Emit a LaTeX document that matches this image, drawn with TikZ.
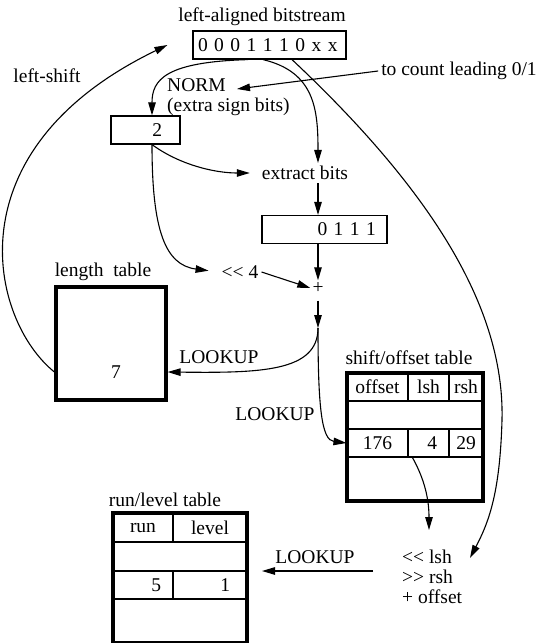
\documentclass[tikz,border=0pt]{standalone}
\usepackage{fontspec}
\setmainfont{Liberation Serif}
\usetikzlibrary{arrows.meta}
\tikzset{
  lbl/.style={inner sep=3pt},
  valbox/.style={draw,line width=1.2pt,minimum height=28pt,inner sep=0pt},
  cell/.style={draw,line width=1.1pt,minimum height=28pt,inner sep=0pt},
  tabframe/.style={draw,line width=3.2pt,inner sep=0pt},
  fl/.style={-{Triangle[length=13pt,width=7.5pt]},line width=1.1pt},
}

\begin{document}
\begin{tikzpicture}[x=1pt,y=-1pt,font=\fontsize{19.5}{20}\selectfont]
  \useasboundingbox (0,0) rectangle (545,643);
  % bitstream and normalisation
  \node[lbl] (bstitle) at (262,17) {left-aligned bitstream};
  \node[valbox,minimum width=153pt,text width=143pt,align=left] (bits) at (269.5,45) {0 0 0 1 1 1 0 x x};
  \node[lbl] (lshift) at (47,76) {left-shift};
  \node[lbl] (count) at (459,71) {to count leading 0/1};
  \node[lbl,anchor=west,align=left] (norm) at (164,97) {NORM\\(extra sign bits)};
  \node[valbox,minimum width=69pt,text width=33pt,align=right] (two) at (145.5,130) {2};
  \node[lbl] (extract) at (305,173) {extract bits};
  \node[valbox,minimum width=125pt,text width=103pt,align=right] (nib) at (324.5,229.5) {0 1 1 1};
  \node[lbl] (shl) at (240,272) {<{}< 4};
  \node[inner sep=2pt] (plus) at (318,288) {+};
  \coordinate (split) at (318,328);
  \coordinate (normtip) at (237,89);
  \coordinate (opsin) at (470,558);
  \coordinate (opstop) at (429,530);
  \coordinate (lkfrom) at (373,571);
  \coordinate (lkto) at (262,571);

  % length table
  \node[lbl] (lentitle) at (103,272) {length\ \ table};
  \node[tabframe,minimum width=110pt,minimum height=113pt] (lentab) at (111,343.5) {};
  \node[lbl] (lenval) at (116,372) {7};

  % shift/offset table
  \node[lbl] (shtitle) at (409,358) {shift/offset table};
  \node[cell,minimum width=61pt] (coff) at (377.5,387) {offset};
  \node[cell,minimum width=41pt] (clsh) at (428.5,387) {lsh};
  \node[cell,minimum width=34pt] (crsh) at (466,387) {rsh};
  \node[cell,minimum width=136pt] (cgap) at (415,415) {};
  \node[cell,minimum width=61pt] (c176) at (377.5,443) {176};
  \node[cell,minimum width=41pt,text width=17pt,align=right] (c4) at (428.5,443) {4};
  \node[cell,minimum width=34pt] (c29) at (466,443) {29};
  \node[tabframe,minimum width=136pt,minimum height=128pt] (shtab) at (415,437) {};

  % run/level table
  \node[lbl] (runtitle) at (165,500) {run/level table};
  \node[cell,minimum width=60pt,minimum height=29pt] (crun) at (143,527.5) {run};
  \node[cell,minimum width=74pt,minimum height=29pt] (clev) at (210,527.5) {level};
  \node[cell,minimum width=134pt,minimum height=29pt] (cgap2) at (180,556.5) {};
  \node[cell,minimum width=60pt,text width=36pt,align=right] (c5) at (143,585) {5};
  \node[cell,minimum width=74pt,text width=40pt,align=right] (c1) at (210,585) {1};
  \node[tabframe,minimum width=134pt,minimum height=130pt] (runtab) at (180,578) {};

  \node[lbl,anchor=west,align=left] (ops) at (399,577) {<{}< lsh\\>{}> rsh\\+ offset};
  \node[lbl] (lk1) at (219,357) {LOOKUP};
  \node[lbl] (lk2) at (275,414) {LOOKUP};
  \node[lbl] (lk3) at (315,557) {LOOKUP};

  \draw[fl] ([xshift=-21.5pt]bits.south) .. controls (165,62) and (152,80) .. ([xshift=6.5pt]two.north);
  \draw[fl] ([xshift=-6.5pt]bits.south) .. controls (315,72) and (318,110) .. (plus |- extract.north);
  \draw[fl] ([xshift=22.5pt]bits.south) .. controls (420,180) and (505,300) .. (502,420)
            .. controls (500,490) and (490,520) .. (opsin);
  \draw[fl] (count.west) -- (normtip);
  \draw[fl] (lentab.west |- lenval) .. controls (-10,320) and (-50,150) .. ([xshift=-25pt]bits.west);
  \draw[fl,shorten >=9pt] ([xshift=6.5pt]two.south) .. controls (180,165) and (215,173) .. (extract.west);
  \draw[fl,shorten >=10pt] ([xshift=6.5pt]two.south) .. controls (152,230) and (165,265) .. (shl.west);
  \draw[fl] (plus |- extract.south) -- (plus |- nib.north);
  \draw[fl] (plus |- nib.south) -- (plus.north);
  \draw[fl] (shl.east) -- (plus.west);
  \draw[fl,shorten <=5pt] (plus.south) -- (split);
  \draw[fl] (split) .. controls (318,372) and (260,373) .. (lentab.east |- lenval);
  \draw[fl] (split) .. controls (318,410) and (322,440) .. (c176.west);
  \draw[fl] ([xshift=5pt]c4.south west) .. controls (425,480) and (429,500) .. (opstop);
  \draw[fl] (lkfrom) -- (lkto);
\end{tikzpicture}
\end{document}
